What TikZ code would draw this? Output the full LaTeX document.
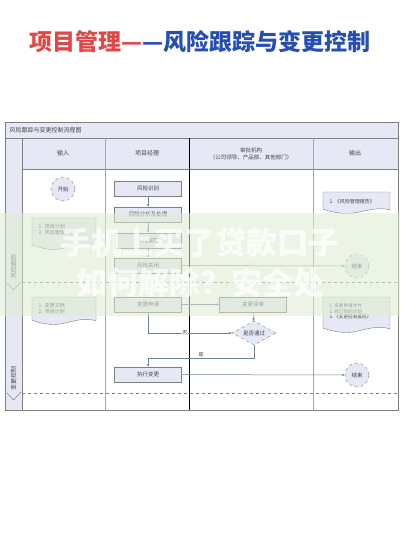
\documentclass[tikz,border=0pt]{standalone}
\usepackage{fontspec}
\newfontfamily\cjk{Noto Sans CJK SC}
\usetikzlibrary{shapes.geometric,arrows.meta}
\definecolor{lav}{RGB}{230,232,245}
\definecolor{edge}{RGB}{128,128,128}
\definecolor{conn}{RGB}{110,130,150}
\definecolor{txt}{RGB}{70,70,70}
\definecolor{tred}{RGB}{222,72,72}
\definecolor{tblue}{RGB}{38,78,178}
\definecolor{band}{RGB}{222,238,208}
\tikzset{
  box/.style={draw=edge,fill=lav,minimum width=67pt,minimum height=15.5pt,inner sep=0pt,font=\cjk\fontsize{5.5}{6}\selectfont,text=txt},
  term/.style={circle,draw=edge,dashed,fill=lav,minimum size=24pt,inner sep=0pt,font=\cjk\fontsize{5.5}{6}\selectfont,text=txt},
  dec/.style={diamond,draw=edge,dashed,fill=lav,minimum width=44pt,minimum height=24pt,inner sep=0pt,aspect=1.8,font=\cjk\fontsize{5.5}{6}\selectfont,text=txt},
  conn/.style={draw=conn,line width=0.5pt,-{Stealth[length=3pt,width=2.4pt]}},
  hdr/.style={font=\cjk\fontsize{6}{7}\selectfont,text=txt,align=center},
  small/.style={font=\cjk\fontsize{5}{6}\selectfont,text=txt,align=left},
  lbl/.style={font=\cjk\fontsize{5}{6}\selectfont,text=txt,inner sep=0.5pt},
  doc/.style={draw=edge,fill=lav,line width=0.4pt}
}
\begin{document}
\begin{tikzpicture}[x=1pt,y=-1pt]
\useasboundingbox (0,0) rectangle (400,533);
\fill[white] (0,0) rectangle (400,533);
% main title
\node[font=\cjk\bfseries\fontsize{23}{25}\selectfont,anchor=center] (title) at (200,42)
  {\textcolor{tred}{项目管理—}\textcolor{tblue}{—风险跟踪与变更控制}};
% frame
\fill[lav] (5,122) rectangle (398,138);
\fill[lav] (22,138) rectangle (398,169);
\fill[lav] (5,138) rectangle (22,410);
\draw[edge,line width=0.5pt] (5,122) rectangle (398,410);
\draw[edge,line width=0.4pt] (5,138) -- (398,138);
\draw[edge,line width=0.4pt] (22,169) -- (398,169);
\draw[edge,line width=0.4pt] (22,138) -- (22,410);
\draw[edge!70,line width=0.4pt] (105,138) -- (105,410);
\draw[edge!70,line width=0.4pt] (313,138) -- (313,410);
\draw[black,line width=0.8pt] (189,138) -- (189,410);
\node[anchor=west,font=\cjk\fontsize{6}{7}\selectfont,text=txt] (ftitle) at (6,130) {风险跟踪与变更控制流程图};
% headers
\node[hdr] (h1) at (63,153.5) {输入};
\node[hdr] (h2) at (147,153.5) {项目经理};
\node[hdr,font=\cjk\fontsize{5.5}{7}\selectfont] (h3) at (251,153.5) {审批机构\\（公司领导、产品部、其他部门）};
\node[hdr] (h4) at (355,153.5) {输出};
% lanes
\draw[edge,dashed,line width=0.4pt] (22,282) -- (398,282);
\draw[edge,dashed,line width=0.4pt] (22,393) -- (398,393);
\draw[edge,line width=0.5pt] (7,283) -- (13.5,290) -- (21,282);
\draw[edge,line width=0.5pt] (7,393) -- (13.5,400) -- (21,392);
\node[rotate=90,font=\cjk\fontsize{6}{7}\selectfont,text=txt] (lane1) at (13.5,266) {风险跟踪};
\node[rotate=90,font=\cjk\fontsize{6}{7}\selectfont,text=txt] (lane2) at (13.5,378) {变更控制};
% documents
\draw[doc] (32,218) -- (96,218) -- (96,245) .. controls (80,239) and (64,252) .. (48,249) .. controls (40,248) and (36,246) .. (32,245) -- cycle;
\node[small,anchor=north west] (din1) at (35,221) {1.\ \ 项目计划\\2.\ \ 风险管理计划};
\draw[doc] (323,192) -- (390,192) -- (390,210) .. controls (373,205) and (357,216) .. (340,213) .. controls (332,212) and (328,211) .. (323,209) -- cycle;
\node[small,anchor=north west] (dout1) at (326,196) {1.\ 《风险管理报告》};
\draw[doc] (32,297) -- (96,297) -- (96,321) .. controls (80,315) and (64,327) .. (48,324) .. controls (40,323) and (36,322) .. (32,320) -- cycle;
\node[small,anchor=north west] (din2) at (35,300) {1.\ \ 变更文档\\2.\ \ 项目计划};
\draw[doc] (323,297) -- (390,297) -- (390,329) .. controls (373,323) and (357,335) .. (340,332) .. controls (332,331) and (328,330) .. (323,328) -- cycle;
\node[small,anchor=north west,font=\cjk\fontsize{4.6}{5.6}\selectfont] (dout2) at (326,300) {1.\ 变更申请文件\\2.\ 修订后的计划\\3.\ 《变更控制报告》};
% nodes
\node[term] (start) at (63,189) {开始};
\node[box] (r1) at (148,188.5) {风险识别};
\node[box] (r2) at (148,214.5) {风险分析及处理};
\node[box] (r3) at (148,240.5) {风险监控};
\node[box] (r4) at (148,265.5) {风险关闭};
\node[term] (end1) at (357,266) {结束};
\node[box] (c1) at (148,304.5) {变更申请};
\node[box] (c2) at (253,304.5) {变更评审};
\node[dec] (dd) at (254,333) {是否通过};
\node[box] (ex) at (148,374.5) {执行变更};
\node[term] (end2) at (357,375) {结束};
% connectors
\draw[conn] (r1) -- (r2);
\draw[conn] (r2) -- (r3);
\draw[conn] (r3) -- (r4);
\draw[conn] (r4) -- (end1);
\draw[conn] (c1) -- (c2);
\draw[conn] (c2) -- (dd);
\draw[conn] (c1.south) |- node[lbl,pos=0.72,fill=white] {否} (dd.west);
\coordinate (k1) at (254,358);
\coordinate (k2) at (148,358);
\draw[conn] (dd.south) -- (k1) -- node[lbl,pos=0.5,above] {是} (k2) -- (ex.north);
\draw[conn] (ex) -- (end2);
% watermark band
\fill[band,opacity=0.55] (0,213) rectangle (400,316);
\node[font=\cjk\bfseries\fontsize{31}{33}\selectfont,text=white,opacity=0.75] (wm1) at (200,243) {手机上买了贷款口子};
\node[font=\cjk\bfseries\fontsize{31}{33}\selectfont,text=white,opacity=0.75] (wm2) at (200,283) {如何解除？安全处};
\end{tikzpicture}
\end{document}
